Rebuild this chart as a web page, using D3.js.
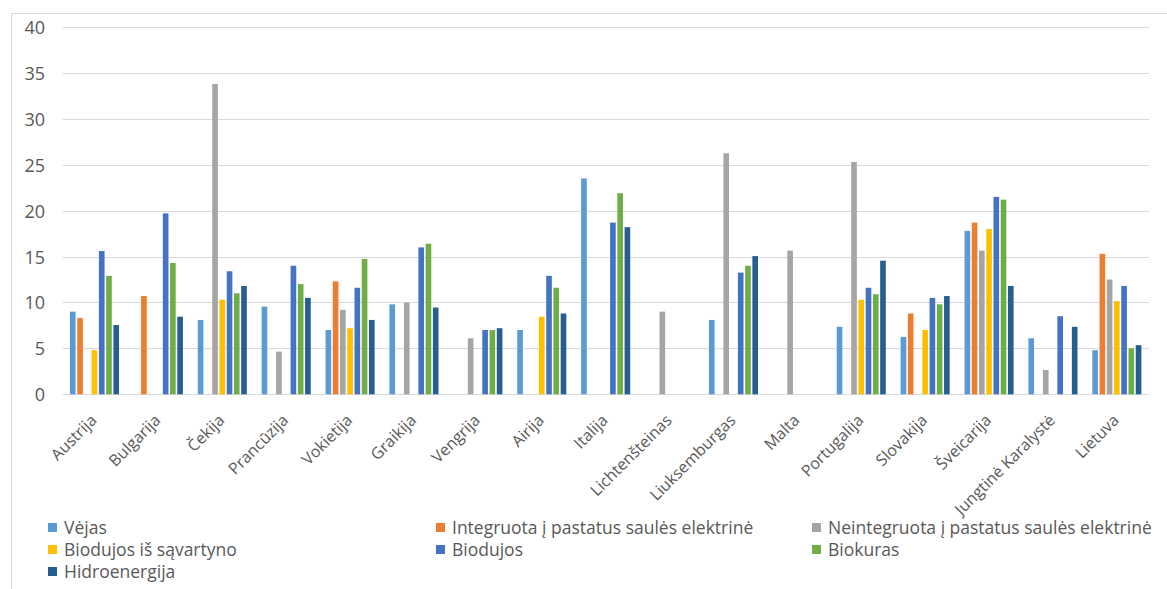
<!DOCTYPE html>
<html><head><meta charset="utf-8">
<script src="https://cdn.jsdelivr.net/npm/d3@7"></script>
<style>
body{margin:0;background:#fff;}
svg{display:block;font-family:"Open Sans",sans-serif;}
</style></head>
<body><svg id="c" width="1167" height="589"></svg>
<script>
const countries = ["Austrija","Bulgarija","Čekija","Prancūzija","Vokietija","Graikija","Vengrija","Airija","Italija","Lichtenšteinas","Liuksemburgas","Malta","Portugalija","Slovakija","Šveicarija","Jungtinė Karalystė","Lietuva"];
const seriesNames = ["Vėjas","Integruota į pastatus saulės elektrinė","Neintegruota į pastatus saulės elektrinė","Biodujos iš sąvartyno","Biodujos","Biokuras","Hidroenergija"];
const seriesColors = ["#5B9BD5","#ED7D31","#A5A5A5","#FFC000","#4472C4","#70AD47","#255E91"];
// values per country, null = no bar
const vejas        = [9.0, null, 8.1, 9.55, 7.0, 9.8, null, 7.0, 23.5, null, 8.1, null, 7.35, 6.25, 17.8, 6.1, 4.8];
const integruota   = [8.3, 10.7, null, null, 12.3, null, null, null, null, null, null, null, null, 8.8, 18.7, null, 15.3];
const neintegruota = [null, null, 33.8, 4.65, 9.2, 10.0, 6.1, null, null, 9.0, 26.25, 15.65, 25.3, null, 15.65, 2.65, 12.5];
const savartyno    = [4.8, null, 10.3, null, 7.2, null, null, 8.45, null, null, null, null, 10.3, 7.0, 18.0, null, 10.15];
const biodujos     = [15.6, 19.7, 13.4, 14.0, 11.6, 16.0, 7.0, 12.9, 18.7, null, 13.25, null, 11.6, 10.5, 21.5, 8.5, 11.8];
const biokuras     = [12.9, 14.3, 11.0, 12.0, 14.75, 16.4, 7.0, 11.6, 21.9, null, 14.0, null, 10.9, 9.8, 21.2, null, 5.0];
const hidro        = [7.55, 8.45, 11.8, 10.5, 8.1, 9.45, 7.2, 8.8, 18.2, null, 15.05, null, 14.55, 10.7, 11.8, 7.35, 5.35];
const yTicks = [0,5,10,15,20,25,30,35,40];
</script>
<script>
(function(){
const allSeries = [vejas, integruota, neintegruota, savartyno, biodujos, biokuras, hidro];
const svg = d3.select("#c");
const W = 1167, H = 589;
const pL = 62.75, pR = 1149, pT = 27, pB = 394.3;

// chart frame
svg.append("rect").attr("x",11.5).attr("y",13.5).attr("width",W+20).attr("height",H+20)
  .attr("fill","none").attr("stroke","#d9d9d9").attr("stroke-width",1);

const x0 = d3.scaleBand().domain(countries).range([pL, pR]).paddingInner(0.207).paddingOuter(0.1035);
const x1 = d3.scaleBand().domain(d3.range(seriesNames.length)).range([0, x0.bandwidth()]);
const y = d3.scaleLinear().domain([0,40]).range([pB, pT]);

// gridlines
svg.append("g").selectAll("line").data(yTicks).join("line")
  .attr("x1",pL).attr("x2",pR)
  .attr("y1",d=>Math.round(y(d))+0.5).attr("y2",d=>Math.round(y(d))+0.5)
  .attr("stroke","#d9d9d9").attr("stroke-width",1);

// y axis labels
const yAxis = d3.axisLeft(y).tickValues(yTicks).tickSize(0).tickPadding(0).tickFormat(d3.format("d"));
const gy = svg.append("g").attr("transform","translate(45,0)").call(yAxis);
gy.select(".domain").remove();
gy.selectAll("text").attr("font-family","Open Sans").attr("font-size",18).attr("fill","#595959").attr("dy","0.36em");

// bars
const groups = svg.append("g").selectAll("g").data(countries).join("g")
  .attr("transform",d=>`translate(${x0(d)},0)`);
groups.selectAll("rect").data((c,ci)=>allSeries.map((s,si)=>({si, v:s[ci]})).filter(d=>d.v!=null))
  .join("rect")
  .attr("x",d=>x1(d.si)+0.6)
  .attr("width",x1.bandwidth()-1.6)
  .attr("y",d=>y(d.v))
  .attr("height",d=>y(0)-y(d.v))
  .attr("fill",d=>seriesColors[d.si]);

// x axis labels
const xAxis = d3.axisBottom(x0).tickSize(0).tickPadding(0);
const gx = svg.append("g").attr("transform",`translate(0,${pB})`).call(xAxis);
gx.select(".domain").remove();
gx.selectAll("text")
  .attr("font-family","Open Sans").attr("font-size",16).attr("fill","#595959")
  .attr("text-anchor","end").attr("dy",0)
  .attr("transform","translate(3,27) rotate(-45)");

// legend
const legX = [48, 436, 812], legY = [528, 550, 572];
const leg = svg.append("g").selectAll("g").data(seriesNames).join("g")
  .attr("transform",(d,i)=>`translate(${legX[i%3]},${legY[Math.floor(i/3)]})`);
leg.append("rect").attr("x",0).attr("y",-5).attr("width",9).attr("height",9)
  .attr("fill",(d,i)=>seriesColors[i]);
leg.append("text").attr("x",16).attr("y",0).attr("dy","0.36em")
  .attr("font-family","Open Sans").attr("font-size",17.5).attr("fill","#595959")
  .text(d=>d);
})();
</script>
</body></html>
